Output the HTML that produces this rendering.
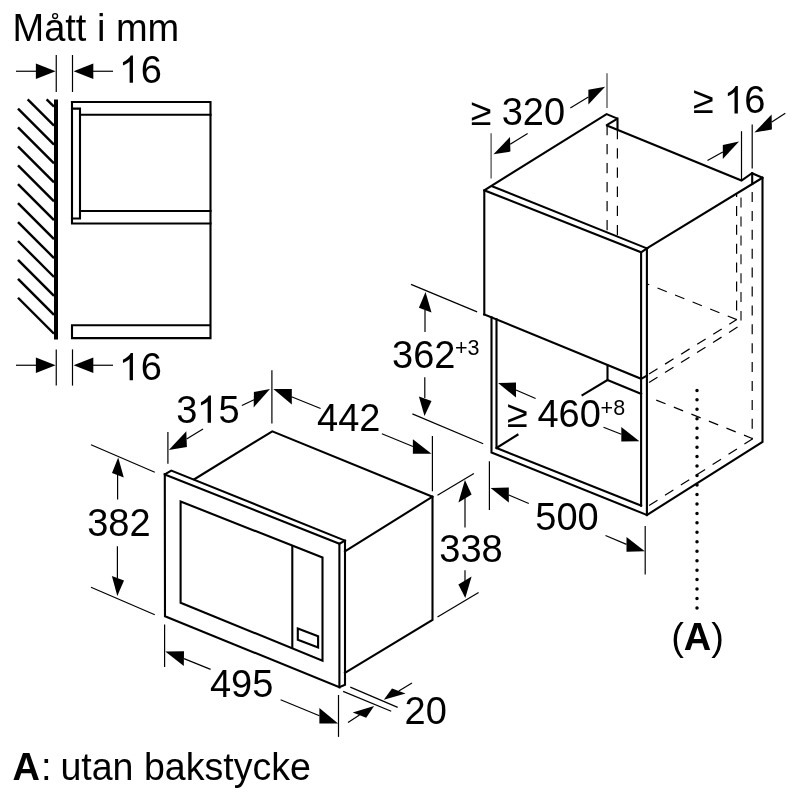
<!DOCTYPE html>
<html><head><meta charset="utf-8"><style>
html,body{margin:0;padding:0;background:#fff;width:800px;height:800px;overflow:hidden}
svg{display:block;filter:grayscale(1)}
text{font-family:"Liberation Sans",sans-serif;fill:#000}
.o{stroke:#000;stroke-width:2.1;fill:none;stroke-linecap:square;stroke-linejoin:miter;stroke-miterlimit:2.2}
.t{stroke:#000;stroke-width:1.2;fill:none}
.g{stroke:#333;stroke-width:1.1;fill:none}
.d{stroke:#000;stroke-width:1.2;fill:none;stroke-dasharray:10 8.9}
.a{fill:#000;stroke:none}
.h{fill-opacity:0}
</style></head><body>
<svg width="800" height="800" viewBox="0 0 800 800">
<rect width="800" height="800" fill="#fff"/>
<defs><path id="one" d="M763 0H583V1147Q518 1085 412.5 1023Q307 961 223 930V1104Q374 1175 487 1276Q600 1377 647 1472H763Z"/></defs>

<!-- ===== TOP LEFT: side view ===== -->
<text x="12.5" y="40.5" font-size="38">M<tspan class="h">å</tspan>tt i mm</text>
<text x="44.15" y="40.5" font-size="38" aria-hidden="true">a</text>
<circle cx="55.1" cy="16" r="2.45" fill="none" stroke="#000" stroke-width="1.35"/>

<!-- top 16 dim -->
<g class="t">
<line x1="56.25" y1="55" x2="56.25" y2="92"/>
<line x1="72.5" y1="55" x2="72.5" y2="92"/>
<line x1="16" y1="71.25" x2="37" y2="71.25"/>
<line x1="92" y1="71.25" x2="113" y2="71.25"/>
</g>
<polygon class="a" points="55.6,71.25 35.9,63.5 35.9,79"/>
<polygon class="a" points="73.6,71.25 93.3,63.5 93.3,79"/>
<text x="119.7" y="82.7" font-size="38"><tspan class="h">1</tspan>6</text><use href="#one" transform="translate(118.8 82.7) scale(0.018555 -0.018555)"/>

<!-- wall -->
<line x1="56" y1="99.5" x2="56" y2="339.5" stroke="#000" stroke-width="4"/>
<g stroke="#000" stroke-width="2.4">
<line x1="46.60" y1="99.30" x2="54" y2="106.70"/>
<line x1="27.68" y1="99.30" x2="54" y2="125.62"/>
<line x1="18.00" y1="108.54" x2="54" y2="144.54"/>
<line x1="18.00" y1="127.46" x2="54" y2="163.46"/>
<line x1="18.00" y1="146.38" x2="54" y2="182.38"/>
<line x1="18.00" y1="165.30" x2="54" y2="201.30"/>
<line x1="18.00" y1="184.22" x2="54" y2="220.22"/>
<line x1="18.00" y1="203.14" x2="54" y2="239.14"/>
<line x1="18.00" y1="222.06" x2="54" y2="258.06"/>
<line x1="18.00" y1="240.98" x2="54" y2="276.98"/>
<line x1="18.00" y1="259.90" x2="54" y2="295.90"/>
<line x1="18.00" y1="278.82" x2="54" y2="314.82"/>
<line x1="18.00" y1="297.74" x2="54" y2="333.74"/>
</g>

<!-- side cabinet -->
<g class="o">
<path d="M72,102 H210.5 V338.1 H72 V325.3 H210.5"/>
<path d="M72,102 V223.5 H210.5"/>
<path d="M80,114.8 H210.5"/>
<path d="M72,108.6 H80 V218.5 H72"/>
<path d="M80,211 H210.5"/>
</g>

<!-- bottom 16 dim -->
<g class="t">
<line x1="56.25" y1="349.4" x2="56.25" y2="385.6"/>
<line x1="72.5" y1="349.4" x2="72.5" y2="385.6"/>
<line x1="16" y1="365.25" x2="37" y2="365.25"/>
<line x1="92" y1="365.25" x2="113" y2="365.25"/>
</g>
<polygon class="a" points="55.6,365.25 35.9,357.5 35.9,373"/>
<polygon class="a" points="73.6,365.25 93.3,357.5 93.3,373"/>
<text x="119.7" y="380.2" font-size="38"><tspan class="h">1</tspan>6</text><use href="#one" transform="translate(118.8 380.2) scale(0.018555 -0.018555)"/>

<!-- ===== MICROWAVE ===== -->
<g class="o">
<!-- frame front -->
<path d="M164.8,474.4 L339.4,543.7 V687.2 L165,616.3 Z"/>
<!-- frame top/side thickness -->
<path d="M164.8,474.4 L171.3,470.6 L345,540.6 V684.7 L339.4,687.2"/>
<path d="M339.4,543.7 L345,540.6"/>
<!-- window -->
<path d="M180.6,501.5 L322.5,557.5 V660.6 L180.6,602.8 Z"/>
<path d="M292.3,546 V647.8"/>
<path d="M297.8,628.5 L318.1,636.3 V647.5 L297.8,639.8 Z"/>
<!-- body -->
<path d="M194.4,479.2 L272.3,431.3 L432.5,496.7 V619.8 L345,672.8"/>
<path d="M432.5,496.7 L345,551.3"/>
</g>

<!-- 315 dim -->
<g class="t">
<line x1="167.9" y1="431.9" x2="167.9" y2="463.8"/>
<line x1="271.9" y1="370.3" x2="271.9" y2="423.5"/>
<line x1="186.6" y1="439" x2="203" y2="429"/>
<line x1="241.9" y1="405.5" x2="254" y2="399.7"/>
</g>
<polygon class="a" points="168.8,450 186.3,431.3 186.9,446.9"/>
<polygon class="a" points="270,389 253.9,392 253.7,407.4"/>
<text x="176.2" y="422.7" font-size="38">3<tspan class="h">1</tspan>5</text><use href="#one" transform="translate(196.8 422.7) scale(0.018555 -0.018555)"/>

<!-- 442 dim -->
<g class="t">
<line x1="291.5" y1="396.7" x2="320.6" y2="408.5"/>
<line x1="381.9" y1="433.8" x2="413" y2="446.5"/>
<line x1="432.4" y1="436" x2="432.4" y2="491.3"/>
</g>
<polygon class="a" points="273.4,389 291.8,389 291.8,404.4"/>
<polygon class="a" points="431.5,453.8 412.9,439.2 412.9,453.8"/>
<text x="317.1" y="430.6" font-size="38">442</text>

<!-- 382 dim -->
<g class="t">
<line x1="91" y1="444.8" x2="154.8" y2="472.3"/>
<line x1="91" y1="587.3" x2="154.8" y2="614.8"/>
<line x1="117.6" y1="475" x2="117.6" y2="499.4"/>
<line x1="117.4" y1="546.3" x2="117.4" y2="578"/>
</g>
<polygon class="a" points="118.2,457.5 112,473 123.8,477.5"/>
<polygon class="a" points="117.3,596 111.9,576 124,580.6"/>
<text x="87.2" y="535.9" font-size="38">382</text>

<!-- 338 dim -->
<g class="t">
<line x1="437.5" y1="495.3" x2="473.9" y2="473.4"/>
<line x1="437.5" y1="617.1" x2="478.6" y2="592.6"/>
<line x1="465" y1="498" x2="465" y2="527.5"/>
<line x1="465" y1="570.3" x2="465" y2="581"/>
</g>
<polygon class="a" points="464.9,479.9 458.4,502.4 471.6,494.5"/>
<polygon class="a" points="465.3,598.1 458.4,584.4 471.6,576.4"/>
<text x="439.3" y="561.6" font-size="38">338</text>

<!-- 495 dim -->
<g class="t">
<line x1="164.6" y1="624.4" x2="164.6" y2="666.9"/>
<line x1="338.5" y1="695" x2="338.5" y2="736.9"/>
<line x1="184" y1="658.6" x2="210.6" y2="669.4"/>
<line x1="280.6" y1="699.8" x2="319.4" y2="715.8"/>
</g>
<polygon class="a" points="165.3,651.5 184,651.3 183.8,666"/>
<polygon class="a" points="338.1,723.5 319.4,708.1 319.4,723.5"/>
<text x="209.9" y="696.7" font-size="38">495</text>

<!-- 20 dim -->
<g class="t">
<line x1="343.1" y1="691.4" x2="391.2" y2="711.3"/>
<line x1="350.3" y1="687.1" x2="397.7" y2="707.4"/>
<line x1="359.5" y1="715" x2="348" y2="722.5"/>
<line x1="398.8" y1="690.9" x2="412" y2="683"/>
</g>
<polygon class="a" points="374.1,705.9 352.7,712.4 366.2,717.7"/>
<polygon class="a" points="383.8,699.8 392,688.4 405.6,693.4"/>
<text x="404.6" y="723.6" font-size="38">20</text>

<!-- ===== RIGHT CABINET ===== -->
<g class="o">
<!-- top outline -->
<path d="M484.3,314.4 V190.3 L606.6,114.1 L617.5,118.6 L606.3,125.3 L741.5,180.5 L752,173.2 L762.5,177.8 V441.8 L646.9,515"/>
<path d="M617.5,118.6 V128"/>
<path d="M752.2,173.2 V184"/>
<path d="M762.5,177.8 L646.9,248.4"/>
<!-- front panel -->
<path d="M484.3,190.3 L641.1,252.3 L646.9,248.4 L492.4,186.3"/>
<path d="M641.1,252.3 V505.6"/>
<path d="M646.9,248.4 V515"/>
<path d="M484.3,314.4 L641.1,378.8 L646.9,375.6"/>
<!-- niche -->
<path d="M491.5,317.3 V452.5 L646.9,515"/>
<path d="M496.5,319.4 V448 L641.1,505.6"/>
<path d="M496.5,448 L517.5,434.8"/>
<path d="M607.5,365.6 V380 L641.1,393.8"/>
<path d="M607.5,380 L582.5,395"/>
</g>
<!-- dashed -->
<g class="d">
<line x1="607.1" y1="125" x2="607.1" y2="232" stroke-dasharray="10.3 8.7"/>
<line x1="617.4" y1="129" x2="617.4" y2="236.3" stroke-dasharray="10.3 8.9"/>
<line x1="736.6" y1="193.7" x2="736.6" y2="319.6" stroke-dashoffset="6.7"/>
<line x1="741" y1="197.6" x2="741" y2="320.4" stroke="#444" stroke-width="1.5"/>
<line x1="752.2" y1="192" x2="752.2" y2="438.6"/>
<line x1="648" y1="284.2" x2="736.75" y2="319.6" stroke-dashoffset="8.67"/>
<line x1="649" y1="374.1" x2="736.75" y2="319.6"/>
<line x1="649" y1="382.6" x2="737.5" y2="327.1"/>
<line x1="656.25" y1="400.1" x2="752.8" y2="438.7"/>
<line x1="752.8" y1="438.7" x2="649" y2="505.6"/>
</g>
<!-- >=320 dim -->
<g class="g">
<line x1="491.1" y1="133.3" x2="491.1" y2="178.6"/>
<line x1="607" y1="73.3" x2="607" y2="108.1"/>
</g>
<g class="t">
<line x1="510.2" y1="144.3" x2="527.6" y2="133.4"/>
<line x1="570.3" y1="107.9" x2="588.4" y2="97"/>
</g>
<polygon class="a" points="493.5,154.3 510,137 510.4,151.6"/>
<polygon class="a" points="605.1,86.8 588.4,89.8 588.4,104.4"/>
<text x="470.8" y="124.7" font-size="38">≥ </text><text x="501.7" y="124.9" font-size="38">320</text>

<!-- >=16 dim -->
<g class="t">
<line x1="741.5" y1="131.2" x2="741.5" y2="180"/>
<line x1="752.2" y1="124.5" x2="752.2" y2="168.5"/>
<line x1="722.8" y1="152" x2="707.5" y2="160.5"/>
<line x1="771.8" y1="121.9" x2="785.3" y2="113.3"/>
</g>
<polygon class="a" points="739,141.5 722.8,145 722.8,159"/>
<polygon class="a" points="754.4,132.5 771.6,114.4 771.9,129.4"/>
<text x="693.1" y="113.4" font-size="38">≥ </text><text x="723.1" y="113.4" font-size="38"><tspan class="h">1</tspan>6</text><use href="#one" transform="translate(723.7 113.4) scale(0.018555 -0.018555)"/>

<!-- 362 dim -->
<g class="t">
<line x1="411" y1="284.4" x2="477.1" y2="311.9"/>
<line x1="412.4" y1="413.9" x2="483.2" y2="443.7"/>
<line x1="425" y1="310" x2="425" y2="331.9"/>
<line x1="424.8" y1="377.3" x2="424.8" y2="398"/>
</g>
<polygon class="a" points="425.5,291.9 418.9,307.7 431.5,312.5"/>
<polygon class="a" points="424.5,416.1 418.9,396.4 431.5,400.9"/>
<text x="392" y="367.7" font-size="38">362</text>
<text x="454.9" y="355.4" font-size="21.5">+3</text>

<!-- >=460 dim -->
<g class="t">
<line x1="516" y1="390" x2="535.6" y2="398.5"/>
<line x1="603.5" y1="427.3" x2="621.3" y2="434.2"/>
</g>
<polygon class="a" points="498.1,383.1 516,382.5 516,397.5"/>
<polygon class="a" points="639.4,441.3 621.3,426.9 621.3,441.5"/>
<text x="507" y="426.6" font-size="38">≥ </text><text x="537.4" y="426.6" font-size="38">460</text>
<text x="600.6" y="414.8" font-size="21.5">+8</text>

<!-- 500 dim -->
<g class="t">
<line x1="489.4" y1="461.3" x2="489.4" y2="510"/>
<line x1="645.2" y1="526" x2="645.2" y2="574.5"/>
<line x1="508.8" y1="495" x2="528.8" y2="503.5"/>
<line x1="605.5" y1="535.5" x2="626.5" y2="544.4"/>
</g>
<polygon class="a" points="490.6,488.1 508.8,487.5 508.8,502.5"/>
<polygon class="a" points="644.8,551.2 626.5,537 626.5,551.8"/>
<text x="535.3" y="530.4" font-size="38">500</text>

<!-- (A) dotted -->
<line x1="697" y1="390.4" x2="697" y2="609" stroke="#000" stroke-width="3.5" stroke-linecap="round" stroke-dasharray="0 9.46"/>
<text x="671.2" y="649.5" font-size="38">(<tspan font-weight="bold">A</tspan>)</text>

<!-- footer -->
<text x="12.4" y="779.8" font-size="38" font-weight="bold">A</text>
<text x="41.1" y="779.8" font-size="38">:</text>
<text x="60.4" y="779.8" font-size="38" textLength="250.5" lengthAdjust="spacingAndGlyphs">utan bakstycke</text>
</svg>
</body></html>
